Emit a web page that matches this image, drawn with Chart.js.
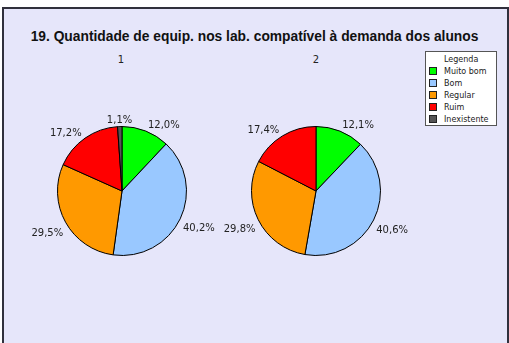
<!DOCTYPE html>
<html>
<head>
<meta charset="utf-8">
<script src="https://cdn.jsdelivr.net/npm/chart.js@4.4.0/dist/chart.umd.min.js"></script>
<style>
  html, body { margin: 0; padding: 0; background: #fff; }
  body { width: 509px; height: 343px; position: relative; overflow: hidden; font-family: "DejaVu Sans", sans-serif; }
  #frame {
    position: absolute; left: 2px; top: 7px; width: 507px; height: 400px;
    box-sizing: border-box; border: 2px solid #30303c; background: #e6e6fa;
  }
  #title {
    position: absolute; left: 0; width: 509px; top: 29px; text-align: center;
    font-family: "Liberation Sans", sans-serif;
    font-weight: bold; font-size: 13.8px; color: #111; white-space: nowrap;
  }
  .sub { position: absolute; top: 54px; font-size: 10px; color: #222; width: 40px; text-align: center; }
  .pie { position: absolute; top: 91px; width: 200px; height: 200px; }
  #legend {
    position: absolute; left: 425px; top: 51px; width: 72px; height: 75px;
    box-sizing: border-box; border: 1px solid #555; background: #fff;
    font-size: 8px; color: #222;
  }
  #legend .head { position: absolute; left: 18px; top: 3px; }
  #legend .row { position: absolute; left: 3px; height: 10px; line-height: 10px; white-space: nowrap; }
  #legend .sw { display: inline-block; width: 6px; height: 6px; border: 1px solid #222; vertical-align: -1px; margin-right: 7px; }
</style>
</head>
<body>
<div id="frame"></div>
<div id="title">19. Quantidade de equip. nos lab. compatível à demanda dos alunos</div>
<div class="sub" style="left:101px">1</div>
<div class="sub" style="left:296px">2</div>
<canvas id="pie1" class="pie" style="left:22px" width="200" height="200"></canvas>
<canvas id="pie2" class="pie" style="left:216px" width="200" height="200"></canvas>
<div id="legend"><div class="head">Legenda</div></div>
<script>
  const categories = ["Muito bom", "Bom", "Regular", "Ruim", "Inexistente"];
  const colors = ["#00ff00", "#99c8ff", "#ff9900", "#ff0000", "#555555"];
  const values1 = [12.0, 40.2, 29.5, 17.2, 1.1];
  const values2 = [12.1, 40.6, 29.8, 17.4, 0];

  // percentage labels outside each slice, comma as decimal separator
  const outsideLabels = {
    id: "outsideLabels",
    afterDatasetsDraw(chart) {
      const ctx = chart.ctx;
      const data = chart.data.datasets[0].data;
      ctx.save();
      ctx.font = "10px 'DejaVu Sans'";
      ctx.fillStyle = "#222";
      ctx.textBaseline = "middle";
      chart.getDatasetMeta(0).data.forEach((arc, i) => {
        if (!data[i]) return;
        const p = arc.getProps(["x", "y", "startAngle", "endAngle", "outerRadius"], true);
        const mid = (p.startAngle + p.endAngle) / 2;
        const r = p.outerRadius + 6;
        const cx = Math.cos(mid), sy = Math.sin(mid);
        const low = Math.max(0, sy);
        const x = p.x + cx * r - Math.sign(cx) * low * 6;
        const y = p.y + sy * r + low * 17;
        ctx.textAlign = Math.abs(cx) < 0.15 ? "center" : (cx > 0 ? "left" : "right");
        ctx.fillText(data[i].toFixed(1).replace(".", ",") + "%", x, y);
      });
      ctx.restore();
    }
  };

  function makePie(id, values) {
    return new Chart(document.getElementById(id), {
      type: "pie",
      data: {
        labels: categories,
        datasets: [{
          data: values,
          backgroundColor: colors,
          borderColor: "#000",
          borderWidth: 1
        }]
      },
      options: {
        responsive: false,
        animation: false,
        layout: { padding: 35 },
        plugins: { legend: { display: false }, tooltip: { enabled: false } }
      },
      plugins: [outsideLabels]
    });
  }

  makePie("pie1", values1);
  makePie("pie2", values2);

  const legend = document.getElementById("legend");
  categories.forEach((c, i) => {
    const row = document.createElement("div");
    row.className = "row";
    row.style.top = (15 + i * 12) + "px";
    row.innerHTML = '<span class="sw" style="background:' + colors[i] + '"></span>' + c;
    legend.appendChild(row);
  });
</script>
</body>
</html>
